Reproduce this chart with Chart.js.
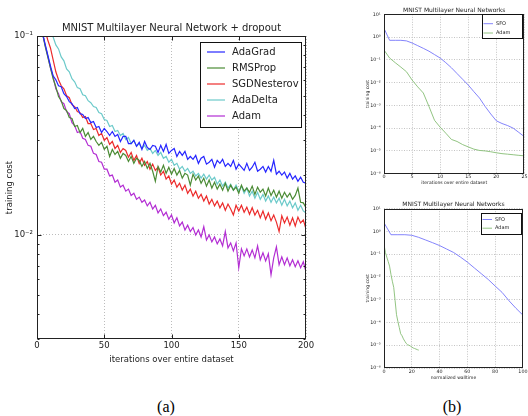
<!DOCTYPE html>
<html>
<head>
<meta charset="utf-8">
<script src="https://cdn.jsdelivr.net/npm/chart.js@4.4.0/dist/chart.umd.min.js"></script>
<style>
    html, body { margin: 0; padding: 0; background: #fff; }
    #page { position: relative; width: 528px; height: 416px; overflow: hidden; background: #fff; }
    .panel { position: absolute; }
    .caption
    {
        position: absolute;
        font-family: "Liberation Serif", "Times New Roman", serif;
        font-size: 16px;
        line-height: 16px;
        color: #000;
        transform: translateX(-50%);
    }
</style>
</head>
<body>
<div id="page">
    <div class="panel" style="left:0;top:0;width:330px;height:375px"><canvas id="chartA"></canvas></div>
    <div class="panel" style="left:330px;top:0;width:198px;height:190px"><canvas id="chartIter"></canvas></div>
    <div class="panel" style="left:330px;top:190px;width:198px;height:194px"><canvas id="chartWall"></canvas></div>
    <div class="caption" style="left:166px;top:399px">(a)</div>
    <div class="caption" style="left:452px;top:399px">(b)</div>
</div>
<script>
// ---- (a) training cost per optimiser, sampled every 2 iterations ----
const iterations = [0,2,4,6,8,10,12,14,16,18,20,22,24,26,28,30,32,34,36,38,
    40,42,44,46,48,50,52,54,56,58,60,62,64,66,68,70,72,74,76,78,
    80,82,84,86,88,90,92,94,96,98,100,102,104,106,108,110,112,114,116,118,
    120,122,124,126,128,130,132,134,136,138,140,142,144,146,148,150,152,154,156,158,
    160,162,164,166,168,170,172,174,176,178,180,182,184,186,188,190,192,194,196,198,200];

const adagradCost = [0.200,0.120,0.104,0.0912,0.0804,0.0708,0.0631,0.0603,0.0562,0.0556,0.0513,0.0496,0.0468,0.0457,0.0432,0.0437,0.0407,0.0403,0.0385,0.0389,
    0.0367,0.0372,0.0347,0.0351,0.0327,0.0343,0.0331,0.0316,0.0331,0.0313,0.0320,0.0295,0.0313,0.0313,0.0288,0.0288,0.0299,0.0279,0.0292,0.0269,
    0.0295,0.0275,0.0269,0.0282,0.0279,0.0260,0.0282,0.0263,0.0285,0.0257,0.0266,0.0272,0.0248,0.0263,0.0251,0.0263,0.0240,0.0248,0.0240,0.0251,
    0.0229,0.0243,0.0248,0.0227,0.0232,0.0240,0.0219,0.0237,0.0229,0.0240,0.0221,0.0229,0.0221,0.0237,0.0214,0.0227,0.0219,0.0211,0.0229,0.0211,
    0.0219,0.0232,0.0209,0.0214,0.0221,0.0207,0.0221,0.0209,0.0237,0.0202,0.0209,0.0200,0.0207,0.0193,0.0204,0.0191,0.0198,0.0186,0.0195,0.0184,0.0182];

const rmspropCost = [0.200,0.120,0.104,0.0891,0.0785,0.0692,0.0610,0.0556,0.0496,0.0473,0.0432,0.0422,0.0389,0.0385,0.0351,0.0355,0.0327,0.0343,0.0313,0.0327,
    0.0302,0.0313,0.0295,0.0282,0.0292,0.0269,0.0279,0.0248,0.0269,0.0254,0.0263,0.0243,0.0257,0.0251,0.0234,0.0248,0.0229,0.0243,0.0237,0.0221,
    0.0234,0.0216,0.0229,0.0209,0.0186,0.0221,0.0207,0.0224,0.0204,0.0219,0.0202,0.0216,0.0200,0.0211,0.0193,0.0204,0.0200,0.0178,0.0202,0.0189,
    0.0198,0.0182,0.0193,0.0176,0.0189,0.0172,0.0184,0.0170,0.0180,0.0168,0.0182,0.0166,0.0178,0.0168,0.0174,0.0162,0.0178,0.0166,0.0172,0.0164,
    0.0176,0.0160,0.0174,0.0164,0.0170,0.0157,0.0172,0.0158,0.0168,0.0155,0.0166,0.0153,0.0164,0.0155,0.0162,0.0151,0.0158,0.0172,0.0146,0.0145,0.0137];

const nesterovCost = [0.300,0.170,0.125,0.107,0.0955,0.0871,0.0759,0.0661,0.0603,0.0562,0.0543,0.0501,0.0490,0.0452,0.0442,0.0417,0.0412,0.0389,0.0394,0.0363,
    0.0363,0.0339,0.0343,0.0316,0.0324,0.0299,0.0309,0.0285,0.0295,0.0272,0.0282,0.0260,0.0272,0.0266,0.0246,0.0260,0.0237,0.0251,0.0229,0.0243,
    0.0224,0.0234,0.0214,0.0227,0.0211,0.0219,0.0200,0.0209,0.0191,0.0198,0.0180,0.0189,0.0174,0.0182,0.0168,0.0178,0.0162,0.0170,0.0157,0.0166,
    0.0153,0.0160,0.0148,0.0157,0.0143,0.0151,0.0140,0.0148,0.0137,0.0145,0.0133,0.0143,0.0135,0.0126,0.0141,0.0132,0.0141,0.0130,0.0138,0.0127,
    0.0137,0.0126,0.0133,0.0122,0.0132,0.0120,0.0129,0.0118,0.0126,0.0116,0.0104,0.0125,0.0115,0.0123,0.0112,0.0122,0.0111,0.0123,0.0115,0.0119,0.0107];

const adadeltaCost = [0.300,0.220,0.170,0.140,0.120,0.105,0.0989,0.0902,0.0861,0.0785,0.0750,0.0684,0.0661,0.0610,0.0589,0.0550,0.0543,0.0507,0.0501,0.0473,
    0.0462,0.0442,0.0437,0.0412,0.0407,0.0380,0.0376,0.0351,0.0355,0.0331,0.0335,0.0316,0.0324,0.0302,0.0309,0.0288,0.0299,0.0279,0.0288,0.0272,
    0.0282,0.0266,0.0272,0.0257,0.0266,0.0251,0.0260,0.0243,0.0248,0.0232,0.0240,0.0224,0.0229,0.0214,0.0221,0.0209,0.0216,0.0204,0.0209,0.0198,
    0.0204,0.0193,0.0202,0.0191,0.0200,0.0189,0.0195,0.0180,0.0189,0.0176,0.0184,0.0172,0.0180,0.0168,0.0178,0.0166,0.0176,0.0162,0.0172,0.0157,
    0.0166,0.0153,0.0164,0.0151,0.0160,0.0148,0.0157,0.0146,0.0155,0.0145,0.0153,0.0141,0.0151,0.0140,0.0148,0.0137,0.0145,0.0133,0.0141,0.0132,0.0129];

const adamCostA = [0.200,0.120,0.104,0.0902,0.0794,0.0692,0.0624,0.0543,0.0513,0.0468,0.0457,0.0417,0.0407,0.0367,0.0355,0.0327,0.0331,0.0306,0.0302,0.0282,
    0.0279,0.0257,0.0254,0.0234,0.0232,0.0214,0.0214,0.0198,0.0200,0.0184,0.0189,0.0174,0.0178,0.0166,0.0170,0.0158,0.0162,0.0151,0.0155,0.0146,
    0.0150,0.0140,0.0146,0.0135,0.0141,0.0129,0.0135,0.0125,0.0130,0.0120,0.0126,0.0115,0.0122,0.0111,0.0116,0.0106,0.0112,0.0104,0.0109,0.0100,
    0.0106,0.00977,0.0110,0.00944,0.0100,0.00923,0.00977,0.00902,0.00955,0.00881,0.0104,0.00861,0.00912,0.00832,0.00912,0.00684,0.00851,0.00785,0.00851,0.00776,
    0.00841,0.00767,0.00881,0.00750,0.00813,0.00741,0.00804,0.00631,0.00767,0.00871,0.00708,0.00776,0.00708,0.00767,0.00700,0.00750,0.00692,0.00741,0.00684,0.00733,0.00653];

const optimizerNames = ['AdaGrad', 'RMSProp', 'SGDNesterov', 'AdaDelta', 'Adam'];
const optimizerColors = ['#2626ff', '#4b8b35', '#ec2b2b', '#6ccaca', '#b32dd3'];
const optimizerCosts = [adagradCost, rmspropCost, nesterovCost, adadeltaCost, adamCostA];

const xTicksA = [50, 100, 150];
const yMajorA = [0.01, 0.1];
const yMinorA = [0.003, 0.004, 0.005, 0.006, 0.007, 0.008, 0.009, 0.02, 0.03, 0.04, 0.05, 0.06, 0.07, 0.08, 0.09];

// ---- (b) SFO vs Adam, per iteration and per unit of walltime ----
const iterationsB = [0,1,2,3,4,5,6,7,8,9,10,11,12,13,14,15,16,17,18,19,20,21,22,23,24,25];
const sfoCost = [2.4,0.72,0.72,0.72,0.68,0.55,0.42,0.32,0.24,0.17,0.12,0.075,0.045,0.025,0.014,0.0078,
    0.0040,0.0021,0.0009,0.00042,0.00021,0.00016,0.00013,0.00010,0.000065,0.000042];
const adamCostB = [0.27,0.12,0.075,0.048,0.030,0.013,0.0065,0.0035,0.0009,0.00022,0.00011,0.000060,0.000032,
    0.000026,0.000019,0.000015,0.000012,0.0000105,0.0000100,0.0000092,0.0000083,0.0000076,0.0000072,0.0000068,0.0000064,0.0000061];
const sfoWalltime = [0,5,10,15,20,25,30,35,40,45,50,55,60,65,70,75,80,85,90,95,100];
const adamWalltime = [0,1,2,3,4,5,6,7,8,9,10,11,12,13,14,15,16,17,18,19,20,21,22,23,24,25];
const decadesB = [1e-6, 1e-5, 1e-4, 1e-3, 1e-2, 1e-1, 1, 10];
const sfoColor = '#7676fa';
const adamColorB = '#86bd74';

Chart.defaults.font.family = "'DejaVu Sans', sans-serif";
Chart.defaults.color = '#222';

const SUP = { '-': '\u207b', '0': '\u2070', '1': '\u00b9', '2': '\u00b2', '3': '\u00b3', '4': '\u2074', '5': '\u2075', '6': '\u2076', '7': '\u2077', '8': '\u2078', '9': '\u2079' };

function decadeLabel(value)
{
    const exp = Math.round(Math.log10(value));
    return '10' + String(exp).split('').map(c => SUP[c]).join('');
}

function points(xs, ys)
{
    return xs.map((x, i) => ({ x: x, y: ys[i] }));
}

// axes frame with matplotlib style inward ticks
const framePlugin = {
    id: 'frame',
    afterDatasetsDraw(chart, args, o)
    {
        const { ctx, chartArea: a, scales } = chart;
        const L = Math.round(a.left) + 0.5, R = Math.round(a.right) - 0.5;
        const T = Math.round(a.top) + 0.5, B = Math.round(a.bottom) - 0.5;
        ctx.save();
        ctx.strokeStyle = o.color;
        ctx.lineWidth = 1;
        ctx.beginPath();
        (o.xTicks || []).forEach(v =>
        {
            const px = Math.round(scales.x.getPixelForValue(v)) + 0.5;
            ctx.moveTo(px, B); ctx.lineTo(px, B - o.len);
            ctx.moveTo(px, T); ctx.lineTo(px, T + o.len);
        });
        const yTick = (v, len) =>
        {
            const py = Math.round(scales.y.getPixelForValue(v)) + 0.5;
            ctx.moveTo(L, py); ctx.lineTo(L + len, py);
            ctx.moveTo(R, py); ctx.lineTo(R - len, py);
        };
        (o.yTicks || []).forEach(v => yTick(v, o.len));
        (o.yMinor || []).forEach(v => yTick(v, o.minorLen));
        ctx.stroke();
        ctx.strokeRect(L, T, R - L, B - T);
        ctx.restore();
    }
};

// boxed legend sitting in the upper right of the plot
const boxLegendPlugin = {
    id: 'boxLegend',
    afterDraw(chart, args, o)
    {
        const { ctx, chartArea: a } = chart;
        const x0 = Math.round(a.right - o.right - o.width);
        const y0 = Math.round(a.top + o.top);
        ctx.save();
        ctx.fillStyle = '#fff';
        ctx.fillRect(x0, y0, o.width, o.height);
        ctx.strokeStyle = '#111';
        ctx.lineWidth = 1;
        ctx.strokeRect(x0 + 0.5, y0 + 0.5, o.width, o.height);
        ctx.font = o.fontSize + "px 'DejaVu Sans', sans-serif";
        ctx.textBaseline = 'middle';
        chart.data.datasets.forEach((ds, i) =>
        {
            const y = y0 + o.firstRow + i * o.rowGap;
            ctx.strokeStyle = ds.borderColor;
            ctx.lineWidth = ds.borderWidth;
            ctx.beginPath();
            ctx.moveTo(x0 + o.lineStart, y);
            ctx.lineTo(x0 + o.lineEnd, y);
            ctx.stroke();
            ctx.fillStyle = '#222';
            ctx.fillText(ds.label, x0 + o.textStart, y);
        });
        ctx.restore();
    }
};

new Chart(document.getElementById('chartA'),
{
    type: 'line',
    data:
    {
        datasets: optimizerNames.map((name, i) => ({
            label: name,
            data: points(iterations, optimizerCosts[i]),
            borderColor: optimizerColors[i],
            borderWidth: 1.2,
            pointRadius: 0,
            tension: 0
        }))
    },
    options:
    {
        responsive: true,
        maintainAspectRatio: false,
        animation: false,
        layout: { padding: { top: 0, right: 24, bottom: 0, left: 0 } },
        scales:
        {
            x:
            {
                type: 'linear', min: 0, max: 200,
                ticks: { stepSize: 50, padding: 2, maxRotation: 0, font: { size: 8.5 } },
                grid: { color: '#bcbcbc', drawTicks: false },
                border: { display: false, dash: [1, 2] },
                title: { display: true, text: 'iterations over entire dataset', font: { size: 8.5 }, padding: { top: 0, bottom: 10 } },
                afterFit: s => { s.height = 36; }
            },
            y:
            {
                type: 'logarithmic', min: 0.003, max: 0.1,
                afterBuildTicks: s => { s.ticks = yMajorA.map(v => ({ value: v })); },
                ticks: { callback: v => decadeLabel(v), padding: 4, font: { size: 8.5 } },
                grid: { color: '#bcbcbc', drawTicks: false },
                border: { display: false, dash: [1, 2] },
                title: { display: true, text: 'training cost', font: { size: 8.5 }, padding: { top: 5, bottom: 0 } },
                afterFit: s => { s.width = 37; }
            }
        },
        plugins:
        {
            legend: { display: false },
            tooltip: { enabled: false },
            title:
            {
                display: true, fullSize: false,
                text: 'MNIST Multilayer Neural Network + dropout',
                font: { size: 10, weight: 'normal' },
                padding: { top: 22, bottom: 2 }
            },
            frame: { color: '#222', xTicks: xTicksA, yTicks: yMajorA, yMinor: yMinorA, len: 4, minorLen: 2 },
            boxLegend: { right: 5, top: 6, width: 101, height: 85, firstRow: 10, rowGap: 16, lineStart: 7, lineEnd: 25, textStart: 32, fontSize: 10 }
        }
    },
    plugins: [framePlugin, boxLegendPlugin]
});

function sfoAdamChart(canvasId, xTitle, xMax, xStep, sfoX, adamX, titleTop, legendTop, legendHeight, legendFirst, legendGap)
{
    return new Chart(document.getElementById(canvasId),
    {
        type: 'line',
        data:
        {
            datasets:
            [
                { label: 'SFO', data: points(sfoX, sfoCost), borderColor: sfoColor, borderWidth: 0.9, pointRadius: 0, tension: 0 },
                { label: 'Adam', data: points(adamX, adamCostB), borderColor: adamColorB, borderWidth: 0.9, pointRadius: 0, tension: 0 }
            ]
        },
        options:
        {
            responsive: true,
            maintainAspectRatio: false,
            animation: false,
            layout: { padding: { top: 0, right: 3.3, bottom: 0, left: 0 } },
            scales:
            {
                x:
                {
                    type: 'linear', min: 0, max: xMax,
                    ticks: { stepSize: xStep, padding: 0.5, maxRotation: 0, font: { size: 4.8 } },
                    grid: { color: '#c4c4c4', drawTicks: false },
                    border: { display: false, dash: [1, 1.5] },
                    title: { display: true, text: xTitle, font: { size: 4.5 }, padding: { top: 0, bottom: titleTop.xPad } },
                    afterFit: s => { s.height = titleTop.xHeight; }
                },
                y:
                {
                    type: 'logarithmic', min: 1e-6, max: 10,
                    afterBuildTicks: s => { s.ticks = decadesB.map(v => ({ value: v })); },
                    ticks: { callback: v => decadeLabel(v), padding: 3.3, font: { size: 4.8 } },
                    grid: { color: '#c4c4c4', drawTicks: false },
                    border: { display: false, dash: [1, 1.5] },
                    title: { display: true, text: 'training cost', font: { size: 4.5 }, padding: { top: 34.7, bottom: 0 } },
                    afterFit: s => { s.width = 54; }
                }
            },
            plugins:
            {
                legend: { display: false },
                tooltip: { enabled: false },
                title:
                {
                    display: true, fullSize: false,
                    text: 'MNIST Multilayer Neural Networks',
                    font: { size: 6, weight: 'normal' },
                    padding: { top: titleTop.pad, bottom: titleTop.padBottom }
                },
                frame: { color: '#222', xTicks: [], yTicks: [], yMinor: [], len: 3, minorLen: 1.5 },
                boxLegend: { right: 2, top: legendTop, width: 40, height: legendHeight, firstRow: legendFirst, rowGap: legendGap, lineStart: 1.5, lineEnd: 11, textStart: 14, fontSize: 5 }
            }
        },
        plugins: [framePlugin, boxLegendPlugin]
    });
}

sfoAdamChart('chartIter', 'iterations over entire dataset', 25, 5, iterationsB, iterationsB,
    { pad: 6.4, padBottom: 0.7, xPad: 4.4, xHeight: 16.3 }, 0, 24, 9.7, 9.3);
sfoAdamChart('chartWall', 'normalized walltime', 100, 20, sfoWalltime, adamWalltime,
    { pad: 11.1, padBottom: 0.4, xPad: 3, xHeight: 16 }, 4, 21, 6.5, 8.7);
</script>
</body>
</html>
